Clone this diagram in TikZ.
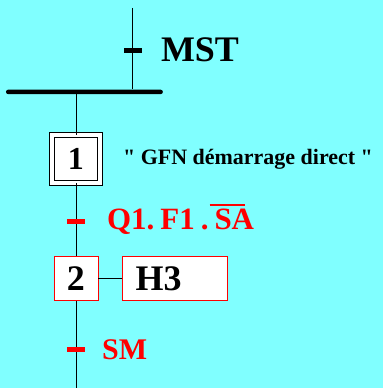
\documentclass[tikz,border=0pt]{standalone}
\usepackage{fontspec}
\setmainfont{Liberation Serif}[Ligatures=TeXOff]
\usetikzlibrary{positioning}
\definecolor{bgcyan}{HTML}{80FFFF}
\newcommand{\ovbar}[1]{\vbox{\hbox{\kern-5pt\vrule width 36pt height 2.2pt depth 0pt}%
  \nointerlineskip\kern 3pt\hbox{#1}}}

\begin{document}
\begin{tikzpicture}[
  x=1pt, y=-1pt,
  node distance=24pt,
  initstep/.style={draw,double=white,double distance=4.5pt,line width=0.7pt,
                   fill=white,minimum width=48pt,minimum height=48pt,
                   inner sep=0pt,font=\fontsize{32}{32}\bfseries},
  stepbox/.style={draw=red,line width=0.8pt,fill=white,minimum width=44pt,
                  minimum height=44pt,inner sep=0pt,font=\fontsize{36}{36}\bfseries},
  actbox/.style={draw=red,line width=0.8pt,fill=white,minimum height=44pt,
                 text width=79pt,inner xsep=13pt,inner ysep=0pt,align=left,
                 font=\fontsize{36}{36}\bfseries},
  transbar/.style={fill,minimum width=18pt,minimum height=5pt,inner sep=0pt},
  lbl/.style={anchor=base west,inner sep=0pt},
  link/.style={line width=0.8pt}
]
\fill[bgcyan] (0,0) rectangle (383,388);
\coordinate (top) at (133,8);
\node[transbar] (t0) at (133,50.5) {};
\node[lbl,font=\fontsize{36}{36}\bfseries] (mst) at (161,62) {MST};
\node[fill,minimum width=157pt,minimum height=4.5pt,inner sep=0pt,
      rounded corners=2.2pt] (sync) at (84.5,92) {};
\draw[link] (top) -- (t0) -- (t0 |- sync.north);
\node[initstep] (s1) at (76,159) {1};
\draw[link] (s1 |- sync.south) -- (s1);
\node[lbl,font=\fontsize{22}{22}\bfseries] (com) at (123,165)
  {" GFN démarrage direct "};
\node[transbar,red] (t1) at (76,222) {};
\node[lbl,text=red,font=\fontsize{31}{31}\bfseries] (r1) at (107,230)
  {Q1.\hspace{6pt}F1\hspace{6pt}.\hspace{6pt}\ovbar{SA}};
\node[stepbox] (s2) at (76,279) {2};
\node[actbox,right=24pt of s2] (a2) {H3};
\draw[link] (s1) -- (t1) -- (s2);
\draw[link] (s2) -- (a2);
\node[transbar,red] (t2) at (76,350) {};
\node[lbl,text=red,font=\fontsize{30}{30}\bfseries] (r2) at (102,360) {SM};
\coordinate (bot) at (76,388);
\draw[link] (s2) -- (t2) -- (bot);
\end{tikzpicture}
\end{document}
